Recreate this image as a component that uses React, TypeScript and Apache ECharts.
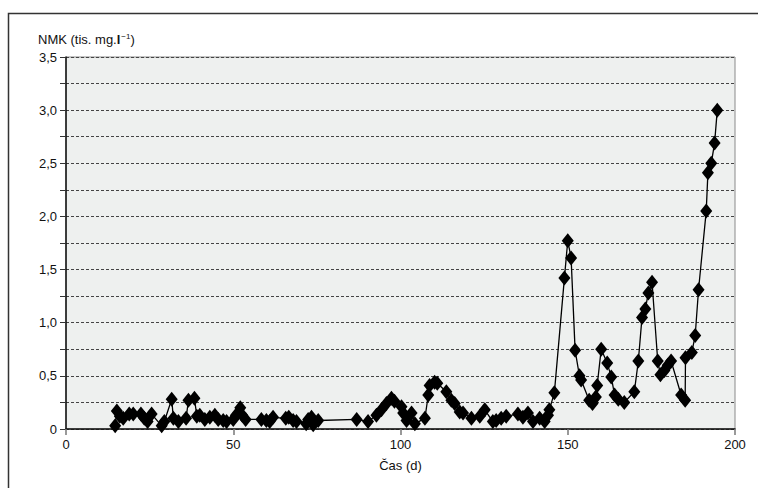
import React, { useEffect, useRef } from "react";
import * as echarts from "echarts";

// Time (days) and NMK values (thousand mg/l)
const days: number[] = [
  14.7, 15.2, 16.1, 17.1, 18.9, 20.1, 22.4, 23.4, 24.4, 25.6, 28.6, 29.4, 31.6, 32.1, 33.6,
  35.9, 36.6, 38.4, 39.1, 40.0, 41.5, 43.0, 44.5, 45.5, 47.0, 48.0, 50.0, 50.8, 52.1, 52.7,
  53.7, 58.4, 59.9, 60.9, 61.9, 65.7, 66.6, 67.9, 68.9, 71.8, 72.4, 73.4, 73.9, 75.4,
  86.9, 90.3, 92.8, 94.3, 95.8, 97.3, 98.2, 100.3, 100.8, 101.8, 103.3, 104.3, 107.3, 108.3,
  108.7, 110.2, 111.0, 113.7, 115.2, 116.2, 117.7, 118.7, 121.2, 123.7, 125.2, 127.6, 128.6,
  130.1, 131.6, 135.1, 136.6, 138.1, 139.6, 141.6, 143.1, 144.1, 144.5, 146.0, 149.0, 150.0,
  151.0, 152.2, 153.5, 154.0, 156.4, 157.4, 158.4, 158.8, 160.0, 161.8, 163.0, 164.0, 165.1,
  166.9, 169.9, 171.1, 172.2, 173.2, 174.1, 175.2, 176.9, 177.7, 178.9, 179.9, 180.9, 183.9,
  185.1, 185.2, 187.1, 188.1, 189.1, 191.4, 191.9, 192.9, 193.9, 194.7,
];
const values: number[] = [
  0.03, 0.17, 0.12, 0.1, 0.14, 0.14, 0.14, 0.1, 0.07, 0.14, 0.03, 0.07, 0.28, 0.1, 0.07,
  0.1, 0.27, 0.29, 0.12, 0.13, 0.09, 0.11, 0.13, 0.09, 0.08, 0.07, 0.09, 0.13, 0.2, 0.13,
  0.09, 0.09, 0.08, 0.07, 0.11, 0.1, 0.11, 0.08, 0.07, 0.05, 0.09, 0.11, 0.04, 0.08,
  0.09, 0.07, 0.13, 0.18, 0.24, 0.29, 0.26, 0.21, 0.15, 0.08, 0.15, 0.05, 0.1, 0.32,
  0.41, 0.44, 0.43, 0.35, 0.27, 0.24, 0.16, 0.15, 0.1, 0.12, 0.18, 0.07, 0.08,
  0.1, 0.12, 0.14, 0.11, 0.15, 0.07, 0.1, 0.07, 0.13, 0.18, 0.34, 1.42, 1.77,
  1.61, 0.74, 0.5, 0.46, 0.27, 0.24, 0.3, 0.41, 0.75, 0.62, 0.49, 0.32,
  0.28, 0.25, 0.35, 0.64, 1.05, 1.13, 1.28, 1.38, 0.64, 0.51, 0.55, 0.6, 0.64, 0.32,
  0.27, 0.67, 0.72, 0.88, 1.31, 2.05, 2.41, 2.5, 2.69, 3.0,
];

const xAxisTitle = "Čas (d)";
const yAxisTitle = "NMK (tis. mg.";

const FONT = "'Liberation Sans Narrow', 'Arial Narrow', 'Liberation Sans', Arial, sans-serif";

export default function App() {
  const ref = useRef<HTMLDivElement>(null);
  useEffect(() => {
    if (!ref.current) return;
    const chart = echarts.init(ref.current, null, { renderer: "svg" });
    const data = days.map((d, i) => [d, values[i]]);
    chart.setOption({
      animation: false,
      backgroundColor: "#ffffff",
      textStyle: { fontFamily: FONT },
      grid: {
        left: 66,
        top: 57,
        width: 669,
        height: 372,
        show: true,
        backgroundColor: "#eef0ef",
        borderColor: "#8a8a8a",
        borderWidth: 1,
      },
      graphic: [
        {
          type: "rect",
          shape: { x: 8.5, y: 13.5, width: 800, height: 520 },
          style: { fill: "none", stroke: "#333", lineWidth: 1.5 },
          silent: true,
        },
        {
          type: "text",
          left: 38,
          top: 32,
          style: {
            text: "{a|" + yAxisTitle + "}{b|l}{c|−1}{a|)}",
            rich: {
              a: { fontFamily: FONT, fontSize: 13, fill: "#111", lineHeight: 15 },
              b: { fontFamily: FONT, fontSize: 13, fill: "#111", fontWeight: "bold", lineHeight: 15 },
              c: { fontFamily: FONT, fontSize: 8, fill: "#111", lineHeight: 15, verticalAlign: "top", padding: [0, 0, 0, 1] },
            },
          },
        },
      ],
      xAxis: {
        type: "value",
        min: 0,
        max: 200,
        interval: 50,
        name: xAxisTitle,
        nameLocation: "middle",
        nameGap: 30,
        nameTextStyle: { fontFamily: FONT, fontSize: 13, color: "#111" },
        axisLine: { show: true, onZero: false, lineStyle: { color: "#111", width: 1.5 } },
        axisTick: { show: true, length: 6, lineStyle: { color: "#777", width: 1.5 } },
        axisLabel: { fontFamily: FONT, fontSize: 13, color: "#111", margin: 9 },
        splitLine: { show: false },
      },
      yAxis: {
        type: "value",
        min: 0,
        max: 3.5,
        interval: 0.25,
        axisLine: { show: true, lineStyle: { color: "#111", width: 1.5 } },
        axisTick: { show: true, length: 6, lineStyle: { color: "#333", width: 1 } },
        axisLabel: {
          fontFamily: FONT,
          fontSize: 13,
          color: "#111",
          margin: 9,
          formatter: (v: number) => {
            const r = Math.round(v * 100);
            if (r % 50 !== 0) return "";
            if (r === 0) return "0";
            return v.toFixed(1).replace(".", ",");
          },
        },
        splitLine: { show: true, lineStyle: { color: "#444", type: [3, 2], width: 1 } },
      },
      series: [
        {
          type: "line",
          data,
          symbol: "diamond",
          symbolSize: [12, 15],
          showAllSymbol: true,
          itemStyle: { color: "#000" },
          lineStyle: { color: "#000", width: 1.3 },
          z: 3,
        },
      ],
    });
    return () => chart.dispose();
  }, []);
  return (
    <div
      ref={ref}
      style={{ position: "fixed", left: 0, top: 0, width: 758, height: 488 }}
    />
  );
}
